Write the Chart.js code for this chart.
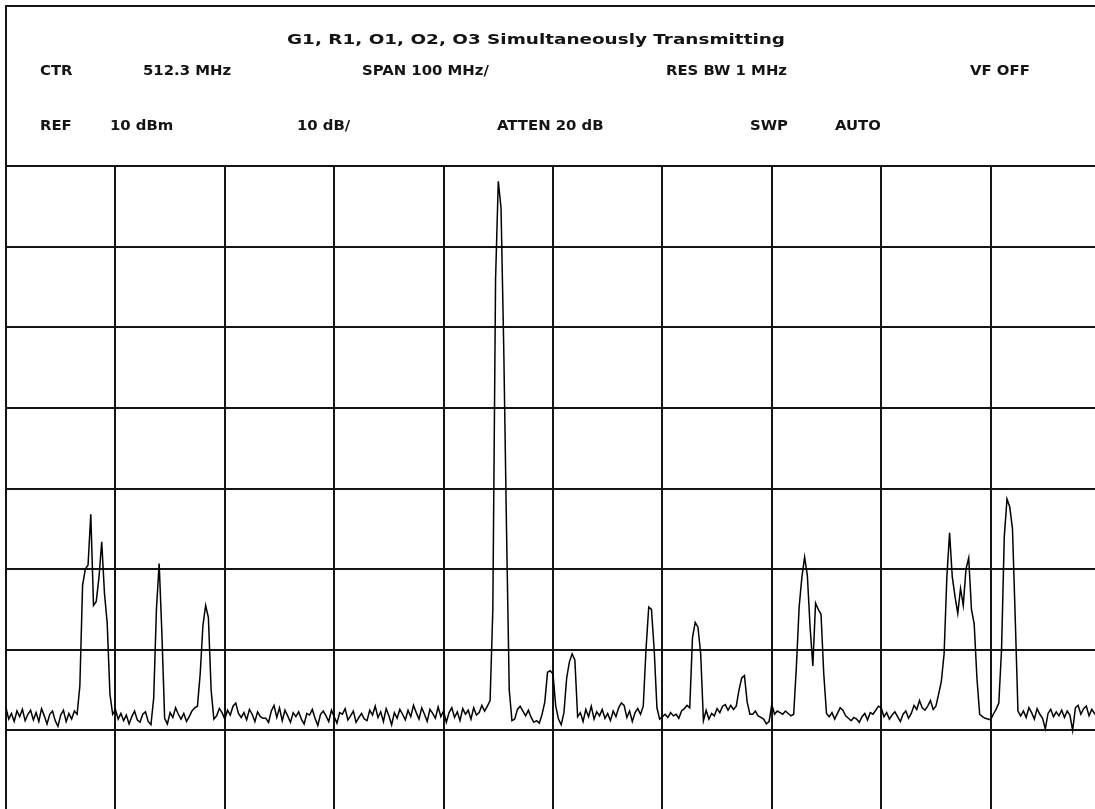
<!DOCTYPE html>
<html>
<head>
<meta charset="utf-8">
<script src="https://cdn.jsdelivr.net/npm/chart.js@4.4.1/dist/chart.umd.min.js"></script>
<style>
  html, body { margin: 0; padding: 0; background: #fff; overflow: hidden; }
  #trace { position: absolute; left: 0; top: 0; width: 1106px; height: 816px; }
</style>
</head>
<body>
<canvas id="trace" width="1106" height="816"></canvas>
<script>
// Analyzer settings
var centerMHz = 512.3;
var spanMHz = 100;
var refLevel = 10;      // dBm, top graticule line
var dbPerDiv = 10;
var vertDivs = 8;
var horizDivs = 10;

// Header text
var titleText = 'G1, R1, O1, O2, O3 Simultaneously Transmitting';
var headerRow1 = ['CTR', '512.3 MHz', 'SPAN 100 MHz/', 'RES BW 1 MHz', 'VF OFF'];
var headerRow2 = ['REF', '10 dBm', '10 dB/', 'ATTEN 20 dB', 'SWP', 'AUTO'];

// Sweep: 401 points across the span, level in dBm
var levels = [
  -57.2, -58.6, -57.9, -58.9, -57.6, -58.3, -57.4, -58.8, -58.0, -57.5, // 0
  -58.7, -57.8, -58.9, -57.3, -58.2, -59.2, -58.0, -57.6, -58.8, -59.5, // 10
  -58.1, -57.5, -58.9, -57.9, -58.6, -57.6, -58.0, -54.5, -42.0, -40.0, // 20
  -39.5, -33.2, -44.5, -44.0, -41.0, -36.6, -43.0, -46.7, -55.5, -58.0, // 30
  -57.4, -58.6, -57.9, -58.8, -58.1, -59.2, -58.3, -57.6, -58.7, -59.0, // 40
  -58.0, -57.7, -58.9, -59.3, -56.0, -45.0, -39.3, -48.0, -58.5, -59.2, // 50
  -57.8, -58.4, -57.2, -58.0, -58.6, -57.9, -58.9, -58.3, -57.6, -57.2, // 60
  -57.0, -53.0, -47.0, -44.5, -46.0, -55.0, -58.6, -58.2, -57.3, -57.8, // 70
  -58.6, -57.5, -58.1, -57.0, -56.6, -57.9, -58.4, -57.8, -58.7, -57.4, // 80
  -58.0, -58.9, -57.7, -58.3, -58.5, -58.5, -59.0, -57.6, -56.9, -58.4, // 90
  -57.2, -58.8, -57.5, -58.2, -59.0, -57.8, -58.3, -57.7, -58.6, -59.2, // 100
  -57.9, -58.1, -57.4, -58.5, -59.4, -58.0, -57.6, -58.2, -58.9, -57.5, // 110
  -58.3, -59.1, -57.8, -58.0, -57.3, -58.7, -58.2, -57.6, -59.0, -58.4, // 120
  -57.9, -58.6, -58.8, -57.5, -58.1, -57.0, -58.4, -57.7, -58.9, -57.3, // 130
  -58.2, -59.3, -57.8, -58.5, -57.4, -58.0, -58.7, -57.5, -58.3, -56.9, // 140
  -57.8, -58.6, -57.2, -58.0, -58.9, -57.4, -57.9, -58.5, -57.1, -58.3, // 150
  -57.6, -59.0, -57.8, -57.2, -58.4, -57.7, -58.8, -57.3, -58.0, -57.5, // 160
  -58.6, -57.2, -58.1, -57.8, -56.9, -57.6, -57.0, -56.3, -45.0,  -4.0, // 170
    8.1,   4.8, -12.8, -35.0, -55.0, -58.8, -58.6, -57.4, -57.0, -57.6, // 180
  -58.2, -57.5, -58.4, -59.0, -58.8, -59.1, -58.0, -56.5, -52.8, -52.6, // 190
  -53.0, -57.0, -58.6, -59.3, -57.8, -53.5, -51.5, -50.5, -51.3, -58.3, // 200
  -57.8, -58.9, -57.4, -58.3, -57.0, -58.6, -57.7, -58.2, -57.4, -58.5, // 210
  -57.9, -58.8, -57.6, -58.3, -57.2, -56.6, -56.9, -58.4, -57.6, -58.9, // 220
  -57.8, -57.3, -58.0, -57.0, -50.0, -44.7, -45.0, -50.0, -57.2, -58.6, // 230
  -58.3, -58.0, -58.4, -57.8, -58.2, -58.0, -58.5, -57.6, -57.3, -56.9, // 240
  -57.2, -48.5, -46.6, -47.2, -50.5, -58.8, -57.5, -58.6, -57.9, -58.2, // 250
  -57.3, -57.8, -57.0, -56.8, -57.5, -56.9, -57.4, -57.0, -55.0, -53.5, // 260
  -53.2, -56.5, -58.0, -58.0, -57.6, -58.2, -58.4, -58.6, -59.2, -58.9, // 270
  -56.8, -58.0, -57.6, -57.8, -58.0, -57.6, -57.9, -58.2, -58.0, -52.0, // 280
  -44.7, -41.0, -38.5, -40.8, -47.2, -52.0, -44.2, -45.0, -45.6, -53.0, // 290
  -57.9, -58.3, -57.8, -58.6, -57.9, -57.2, -57.5, -58.2, -58.5, -58.8, // 300
  -58.4, -58.6, -59.0, -58.3, -57.9, -58.7, -57.8, -58.0, -57.5, -57.0, // 310
  -57.2, -58.3, -57.8, -58.6, -58.1, -57.7, -58.3, -58.9, -58.0, -57.6, // 320
  -58.5, -57.9, -56.9, -57.4, -56.3, -57.2, -57.5, -57.0, -56.3, -57.4, // 330
  -57.0, -55.5, -53.9, -50.5, -41.0, -35.5, -41.0, -43.4, -45.5, -42.4, // 340
  -44.5, -40.0, -38.6, -45.0, -46.8, -53.5, -58.0, -58.3, -58.5, -58.6, // 350
  -58.7, -58.0, -57.4, -56.6, -50.0, -36.0, -31.3, -32.3, -35.0, -46.0, // 360
  -57.6, -58.2, -57.6, -58.4, -57.2, -57.8, -58.6, -57.3, -58.0, -58.5, // 370
  -59.8, -57.9, -57.4, -58.3, -57.7, -58.2, -57.5, -58.4, -57.6, -58.1, // 380
  -60.0, -57.2, -56.9, -58.0, -57.3, -57.0, -58.2, -57.4, -57.9, -58.3, // 390
  -57.6                                                                 // 400
];

// Where the header strings sit on the screen
var titlePos = { x: 287, y: 40, width: 498 };
var row1Y = 71;
var row1X = [40, 143, 362, 666, 970];
var row2Y = 126;
var row2X = [40, 110, 297, 497, 750, 835];
var rowFitWidth = 121;   // drawn width of 'RES BW 1 MHz', sets the row text scale
var frame = { left: 6, top: 6, right: 1100, bottom: 811 };
var plotTop = 166;

var ink = '#141414';

// Frequency offset from centre for each sweep point
var sweepStep = spanMHz / (levels.length - 1);
var points = levels.map((v, i) => ({ x: -spanMHz / 2 + i * sweepStep, y: v }));

// Header box and the instrument settings text
var headerPlugin = {
    id: 'header',
    beforeDraw(chart) {
        var ctx = chart.ctx;
        ctx.save();
        ctx.fillStyle = '#fff';
        ctx.fillRect(0, 0, chart.width, chart.height);
        ctx.strokeStyle = ink;
        ctx.lineWidth = 2;
        ctx.strokeRect(frame.left, frame.top, frame.right - frame.left, frame.bottom - frame.top);
        ctx.restore();
    },
    afterDraw(chart) {
        var ctx = chart.ctx;
        ctx.save();
        ctx.fillStyle = ink;
        ctx.font = 'bold 14px "DejaVu Sans"';
        ctx.textBaseline = 'middle';
        var titleScale = titlePos.width / ctx.measureText(titleText).width;
        var rowScale = rowFitWidth / ctx.measureText(headerRow1[3]).width;
        var put = (text, x, y, sx) => {
            ctx.save();
            ctx.translate(x, y);
            ctx.scale(sx, 1);
            ctx.fillText(text, 0, 0);
            ctx.restore();
        };
        put(titleText, titlePos.x, titlePos.y, titleScale);
        headerRow1.forEach((t, i) => put(t, row1X[i], row1Y, rowScale));
        headerRow2.forEach((t, i) => put(t, row2X[i], row2Y, rowScale));
        ctx.restore();
    }
};

var gridStyle = { color: ink, lineWidth: 2, drawTicks: false };
var borderStyle = { color: ink, width: 2 };

var canvas = document.getElementById('trace');
var chartObj = new Chart(canvas, {
    type: 'line',
    data: {
        datasets: [{
            data: points,
            borderColor: '#000',
            borderWidth: 1.5,
            pointRadius: 0,
            tension: 0,
            fill: false
        }]
    },
    options: {
        responsive: false,
        animation: false,
        events: [],
        layout: {
            padding: {
                left: frame.left,
                top: plotTop,
                right: canvas.width - frame.right,
                bottom: canvas.height - frame.bottom
            }
        },
        plugins: {
            legend: { display: false },
            tooltip: { enabled: false }
        },
        scales: {
            x: {
                type: 'linear',
                min: -spanMHz / 2,
                max: spanMHz / 2,
                ticks: { display: false, stepSize: spanMHz / horizDivs },
                grid: gridStyle,
                border: borderStyle
            },
            y: {
                min: refLevel - dbPerDiv * vertDivs,
                max: refLevel,
                ticks: { display: false, stepSize: dbPerDiv },
                grid: gridStyle,
                border: borderStyle
            }
        }
    },
    plugins: [headerPlugin]
});
</script>
</body>
</html>
